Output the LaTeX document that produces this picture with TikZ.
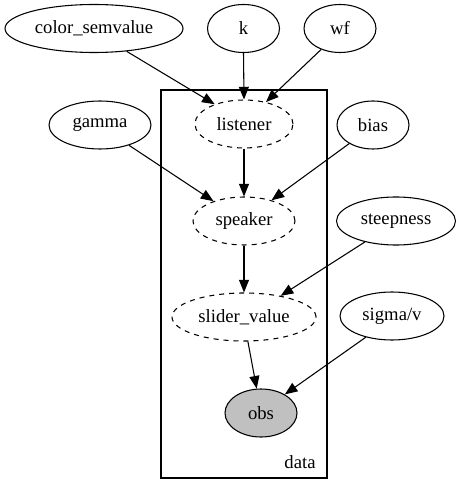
\documentclass[tikz,border=0pt]{standalone}
\usepackage{fontspec}
\setmainfont{Liberation Serif}
\usetikzlibrary{shapes.geometric,arrows.meta}
\definecolor{obsgray}{HTML}{C0C0C0}
\begin{document}
\begin{tikzpicture}[x=0.75pt,y=-0.75pt,
  font=\fontsize{14pt}{16pt}\selectfont,
  var/.style={ellipse,draw,line width=0.8pt,inner sep=0pt,minimum height=36pt},
  latent/.style={var,dashed,dash pattern=on 3.75pt off 3.75pt},
  observed/.style={var,fill=obsgray},
  edge/.style={line width=0.8pt,-{Triangle[length=9.5pt,width=7.5pt]}},
  plate/.style={draw,line width=0.8pt}]
\useasboundingbox (0,0) rectangle (460,495);
\node[plate,minimum width=166*0.75pt,minimum height=388*0.75pt,inner sep=0pt] (plate) at (244,284) {};
\node (data) at (300,462) {data};
\node[var,minimum width=178*0.75pt] (cs) at (94,28.5) {color\_semvalue};
\node[var,minimum width=72*0.75pt] (k) at (243.5,28.5) {k};
\node[var,minimum width=72*0.75pt] (wf) at (340,28.5) {wf};
\node[latent,minimum width=98*0.75pt] (listener) at (244,124) {listener};
\node[var,minimum width=102*0.75pt] (gamma) at (100,125) {gamma};
\node[var,minimum width=72*0.75pt] (bias) at (373,125) {bias};
\node[latent,minimum width=102*0.75pt] (speaker) at (244,221) {speaker};
\node[var,minimum width=119*0.75pt] (steep) at (396,221) {steepness};
\node[latent,minimum width=144*0.75pt] (slider) at (244,317) {slider\_value};
\node[var,minimum width=104*0.75pt] (sigma) at (392,316) {sigma/v};
\node[observed,minimum width=72*0.75pt] (obs) at (261,413) {obs};
\draw[edge] (cs.-35) -- (listener.146);
\draw[edge] (k.south) -- (listener.north);
\draw[edge] (wf.-132) -- (listener.45);
\draw[edge] (gamma.-35) -- (speaker.147);
\draw[edge] (bias.-142) -- (speaker.37);
\draw[edge] (listener.south) -- (speaker.north);
\draw[edge] (speaker.south) -- (slider.north);
\draw[edge] (steep.-146) -- (slider.30);
\draw[edge] (slider.-81) -- (obs.100);
\draw[edge] (sigma.-141) -- (obs.38);
\end{tikzpicture}
\end{document}
